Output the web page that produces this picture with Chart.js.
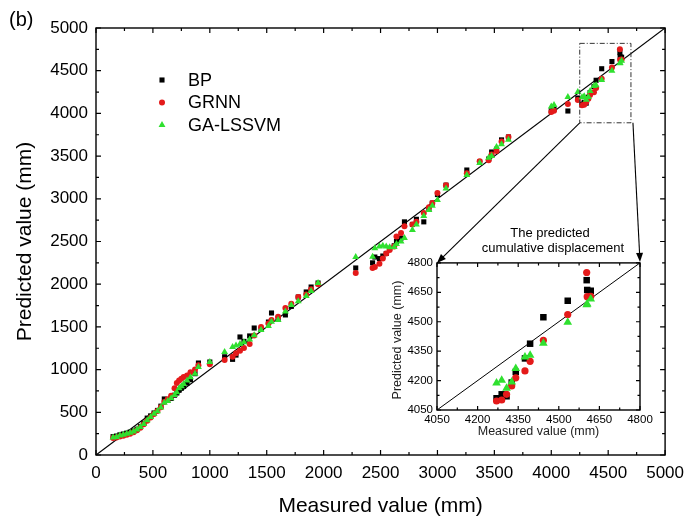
<!DOCTYPE html>
<html>
<head>
<meta charset="utf-8">
<script src="https://cdn.jsdelivr.net/npm/chart.js@4.4.1/dist/chart.umd.min.js"></script>
<style>
  html, body { margin: 0; padding: 0; background: #fff; }
  #wrap { position: relative; width: 692px; height: 521px; }
  #main { position: absolute; left: 0; top: 0; }
  #inset { position: absolute; left: 360px; top: 252px; }
</style>
</head>
<body>
<div id="wrap">
  <canvas id="main" width="692" height="521"></canvas>
  <canvas id="inset" width="300" height="200"></canvas>
</div>
<script>
const measured = [
  150, 180, 210, 240, 270, 300, 330, 360, 390, 420,
  450, 480, 510, 540, 570, 600, 630, 660, 690, 710,
  730, 750, 770, 800, 830, 870, 900, 1000, 1130, 1200,
  1230, 1265, 1300, 1350, 1390, 1450, 1515, 1542, 1600, 1664,
  1716, 1777, 1847, 1890, 1951, 2282, 2430, 2450, 2490, 2520,
  2550, 2580, 2620, 2640, 2680, 2710, 2780, 2815, 2880, 2925,
  2955, 3000, 3075, 3258, 3371, 3450, 3476, 3519, 3563, 3624,
  4000, 4024, 4146, 4233, 4270, 4289, 4307, 4326, 4341, 4375,
  4394, 4443, 4533, 4603, 4605, 4618
];
const bpPredicted = [
  215, 222, 236, 246, 256, 268, 282, 302, 332, 372,
  432, 458, 492, 522, 572, 656, 640, 662, 700, 726,
  758, 782, 802, 842, 882, 952, 1077, 1089, 1150, 1120,
  1170, 1382, 1330, 1394, 1487, 1470, 1557, 1663, 1600, 1640,
  1740, 1850, 1909, 1967, 2014, 2190, 2250, 2318, 2300, 2330,
  2360, 2420, 2450, 2500, 2540, 2730, 2700, 2760, 2730, 2880,
  2950, 3050, 3160, 3337, 3430, 3466, 3548, 3580, 3690, 3724,
  4030, 4050, 4028, 4180, 4110, 4130, 4120, 4190, 4244, 4313,
  4388, 4523, 4607, 4712, 4662, 4658
];
const grnnPredicted = [
  200, 205, 218, 226, 238, 250, 266, 290, 318, 360,
  402, 440, 480, 516, 560, 622, 652, 694, 782, 842,
  872, 892, 912, 930, 970, 1000, 1050, 1062, 1112, 1150,
  1190, 1222, 1253, 1300, 1400, 1499, 1540, 1580, 1620, 1721,
  1770, 1850, 1880, 1940, 2000, 2131, 2190, 2200, 2240, 2300,
  2360, 2400, 2440, 2560, 2600, 2680, 2700, 2730, 2833, 2900,
  2950, 3068, 3160, 3300, 3440, 3450, 3520, 3560, 3670, 3724,
  4016, 4030, 4110, 4157, 4096, 4101, 4130, 4173, 4214, 4249,
  4298, 4405, 4537, 4751, 4628, 4630
];
const lssvmPredicted = [
  205, 212, 228, 238, 250, 262, 276, 298, 328, 364,
  406, 446, 482, 512, 556, 612, 632, 664, 704, 736,
  782, 804, 832, 872, 910, 952, 1030, 1089, 1206, 1265,
  1282, 1300, 1320, 1352, 1402, 1463, 1510, 1560, 1581, 1680,
  1756, 1800, 1862, 1920, 2014, 2318, 2320, 2420, 2440, 2450,
  2440, 2432, 2435, 2470, 2500, 2540, 2635, 2700, 2800, 2870,
  2920, 2985, 3120, 3280, 3420, 3480, 3500, 3607, 3640, 3690,
  4080, 4098, 4192, 4250, 4188, 4202, 4161, 4193, 4261, 4320,
  4329, 4390, 4498, 4587, 4590, 4616
];
const seriesNames = ["BP", "GRNN", "GA-LSSVM"];
const mainTickValues = [0, 500, 1000, 1500, 2000, 2500, 3000, 3500, 4000, 4500, 5000];
const insetTickValues = [4050, 4200, 4350, 4500, 4650, 4800];
const zoomBox = { x0: 4250, x1: 4700, y0: 3890, y1: 4820 };

const FONT = "'Liberation Sans', Arial, sans-serif";
const INSET_LEFT = 360;
const INSET_TOP = 252;

const estilos = [
  { color: "#000000", style: "rect", r: 3.6, ri: 4.6 },
  { color: "#e41a1a", style: "circle", r: 3, ri: 3.6 },
  { color: "#2fe02f", style: "triangle", r: 4, ri: 5 }
];
const valores = [bpPredicted, grnnPredicted, lssvmPredicted];

function toPoints(ys) {
  return measured.map((m, i) => ({ x: m, y: ys[i] }));
}

function fijarTicks(lista) {
  return (axis) => {
    axis.ticks = lista.map((v) => ({ value: v }));
  };
}

function dibujarMarco(chart, lista, mayor, menor) {
  const ctx = chart.ctx;
  const { left, right, top, bottom } = chart.chartArea;
  const sx = chart.scales.x;
  const sy = chart.scales.y;
  ctx.save();
  ctx.strokeStyle = "#000";
  ctx.lineWidth = 1.4;
  ctx.strokeRect(left, top, right - left, bottom - top);
  ctx.lineWidth = 1.2;
  const marcas = [];
  lista.forEach((v, i) => {
    marcas.push([v, mayor]);
    if (i < lista.length - 1) marcas.push([(v + lista[i + 1]) / 2, menor]);
  });
  ctx.beginPath();
  marcas.forEach(([v, len]) => {
    const px = sx.getPixelForValue(v);
    const py = sy.getPixelForValue(v);
    ctx.moveTo(px, bottom); ctx.lineTo(px, bottom - len);
    ctx.moveTo(px, top); ctx.lineTo(px, top + len);
    ctx.moveTo(left, py); ctx.lineTo(left + len, py);
    ctx.moveTo(right, py); ctx.lineTo(right - len, py);
  });
  ctx.stroke();
  ctx.restore();
}

function flecha(ctx, x0, y0, x1, y1) {
  const ang = Math.atan2(y1 - y0, x1 - x0);
  const largo = 9;
  const ancho = 3.5;
  ctx.beginPath();
  ctx.moveTo(x0, y0);
  ctx.lineTo(x1 - Math.cos(ang) * largo * 0.8, y1 - Math.sin(ang) * largo * 0.8);
  ctx.stroke();
  ctx.beginPath();
  ctx.moveTo(x1, y1);
  ctx.lineTo(x1 - Math.cos(ang) * largo - Math.sin(ang) * ancho, y1 - Math.sin(ang) * largo + Math.cos(ang) * ancho);
  ctx.lineTo(x1 - Math.cos(ang) * largo + Math.sin(ang) * ancho, y1 - Math.sin(ang) * largo - Math.cos(ang) * ancho);
  ctx.closePath();
  ctx.fill();
}

const extrasMain = {
  id: "extrasMain",
  afterDraw(chart) {
    const ctx = chart.ctx;
    const sx = chart.scales.x;
    const sy = chart.scales.y;
    const area = chart.chartArea;
    dibujarMarco(chart, mainTickValues, 5, 3);

    ctx.save();
    // leyenda
    seriesNames.forEach((nombre, i) => {
      const y = 80 + i * 22.5;
      ctx.fillStyle = estilos[i].color;
      Chart.helpers.drawPoint(ctx, { pointStyle: estilos[i].style, radius: estilos[i].r, rotation: 0, borderWidth: 0 }, 162, y);
      ctx.fillStyle = "#000";
      ctx.font = "18px " + FONT;
      ctx.textBaseline = "middle";
      ctx.textAlign = "left";
      ctx.fillText(nombre, 188, y + 1);
    });

    // recuadro de la zona ampliada
    const bx0 = sx.getPixelForValue(zoomBox.x0);
    const bx1 = sx.getPixelForValue(zoomBox.x1);
    const by0 = sy.getPixelForValue(zoomBox.y0);
    const by1 = sy.getPixelForValue(zoomBox.y1);
    ctx.strokeStyle = "#333";
    ctx.lineWidth = 1;
    ctx.setLineDash([5, 2, 1, 2]);
    ctx.strokeRect(bx0, by1, bx1 - bx0, by0 - by1);
    ctx.setLineDash([]);

    // flechas hacia el inset
    const ins = insetChart.chartArea;
    ctx.strokeStyle = "#000";
    ctx.fillStyle = "#000";
    ctx.lineWidth = 1.1;
    flecha(ctx, bx0, by0, INSET_LEFT + ins.left, INSET_TOP + ins.top);
    flecha(ctx, bx1 + 2, by0, INSET_LEFT + ins.right, INSET_TOP + ins.top - 1);

    ctx.font = "13px " + FONT;
    ctx.textAlign = "center";
    ctx.textBaseline = "middle";
    ctx.fillText("The predicted", 550, 233);
    ctx.fillText("cumulative displacement", 553, 248);

    // titulos
    ctx.font = "21px " + FONT;
    ctx.fillText("Measured value (mm)", (area.left + area.right) / 2, 506);
    ctx.save();
    ctx.translate(25, (area.top + area.bottom) / 2);
    ctx.rotate(-Math.PI / 2);
    ctx.fillText("Predicted value (mm)", 0, 0);
    ctx.restore();
    ctx.font = "20px " + FONT;
    ctx.textAlign = "left";
    ctx.fillText("(b)", 9, 20);
    ctx.restore();
  }
};

const extrasInset = {
  id: "extrasInset",
  afterDraw(chart) {
    const ctx = chart.ctx;
    const area = chart.chartArea;
    dibujarMarco(chart, insetTickValues, 4, 2.5);
    ctx.save();
    ctx.fillStyle = "#222";
    ctx.font = "12.5px " + FONT;
    ctx.textAlign = "center";
    ctx.textBaseline = "middle";
    ctx.fillText("Measured value (mm)", (area.left + area.right) / 2, 180);
    ctx.translate(38, 88);
    ctx.rotate(-Math.PI / 2);
    ctx.fillText("Predicted value (mm)", 0, 0);
    ctx.restore();
  }
};

function ejeLineal(min, max, lista, size, pad, fit) {
  return {
    type: "linear",
    min: min,
    max: max,
    afterBuildTicks: fijarTicks(lista),
    afterFit: fit,
    grid: { display: false, drawTicks: false },
    border: { display: false },
    ticks: {
      color: "#000",
      padding: pad,
      autoSkip: false,
      maxRotation: 0,
      font: { family: FONT, size: size },
      callback: (v) => String(v)
    }
  };
}

function datasetsSerie(filtro, grande) {
  return valores.map((ys, i) => ({
    label: seriesNames[i],
    data: toPoints(ys).filter(filtro),
    pointStyle: estilos[i].style,
    pointRadius: grande ? estilos[i].ri : estilos[i].r,
    pointBackgroundColor: estilos[i].color,
    pointBorderColor: estilos[i].color,
    pointBorderWidth: 0,
    showLine: false,
    order: 3 - i
  }));
}

const insetLo = insetTickValues[0];
const insetHi = insetTickValues[insetTickValues.length - 1];

// el inset muestra solo lo que cae dentro del recuadro
function enRecuadro(p) {
  return p.x >= zoomBox.x0 && p.x <= zoomBox.x1 && p.y >= insetLo && p.y <= insetHi;
}

const insetChart = new Chart(document.getElementById("inset"), {
  type: "scatter",
  data: {
    datasets: [
      {
        type: "line",
        data: [{ x: insetLo, y: insetLo }, { x: insetHi, y: insetHi }],
        borderColor: "#000",
        borderWidth: 1,
        pointRadius: 0,
        order: 5
      },
      ...datasetsSerie(enRecuadro, true)
    ]
  },
  options: {
    responsive: false,
    animation: false,
    layout: { padding: { top: 10, right: 20, left: 0, bottom: 0 } },
    plugins: { legend: { display: false }, tooltip: { enabled: false } },
    scales: {
      x: ejeLineal(insetLo, insetHi, insetTickValues, 11.5, 3, (a) => { a.height = 42; }),
      y: ejeLineal(insetLo, insetHi, insetTickValues, 11.5, 4, (a) => { a.width = 77; })
    }
  },
  plugins: [extrasInset]
});

const mainLo = mainTickValues[0];
const mainHi = mainTickValues[mainTickValues.length - 1];

new Chart(document.getElementById("main"), {
  type: "scatter",
  data: {
    datasets: [
      {
        type: "line",
        data: [{ x: mainLo, y: mainLo }, { x: mainHi, y: mainHi }],
        borderColor: "#000",
        borderWidth: 1.2,
        pointRadius: 0,
        order: 5
      },
      ...datasetsSerie(() => true, false)
    ]
  },
  options: {
    responsive: false,
    animation: false,
    layout: { padding: { top: 28, right: 22, left: 0, bottom: 0 } },
    plugins: { legend: { display: false }, tooltip: { enabled: false } },
    scales: {
      x: ejeLineal(mainLo, mainHi, mainTickValues, 17, 8, (a) => { a.height = 66; }),
      y: ejeLineal(mainLo, mainHi, mainTickValues, 17, 8, (a) => { a.width = 96; })
    }
  },
  plugins: [extrasMain]
});
</script>
</body>
</html>
